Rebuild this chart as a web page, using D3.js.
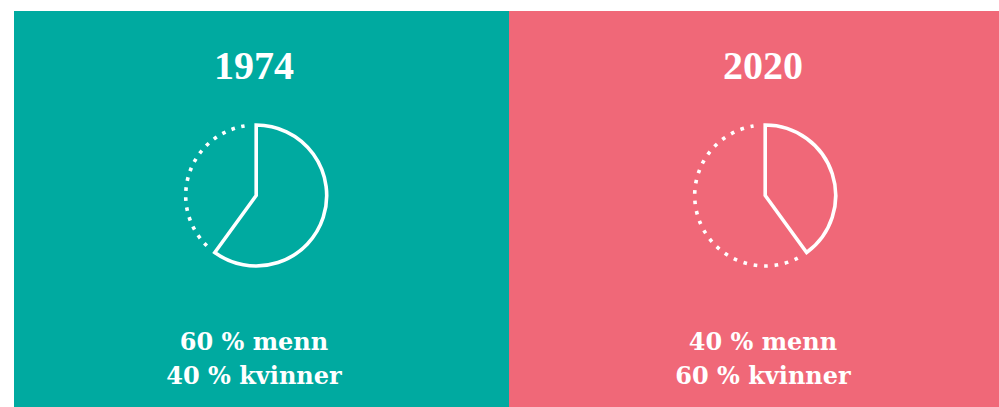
<!DOCTYPE html>
<html><head><meta charset="utf-8">
<script src="https://cdn.jsdelivr.net/npm/d3@7"></script>
<style>html,body{margin:0;padding:0;background:#fff;overflow:hidden}</style>
</head><body>
<svg id="c" width="999" height="407"></svg>
<script>
const years = ["1974", "2020"];
const mennPct = [60, 40];
const kvinnerPct = [40, 60];
const line1 = ["60 % menn", "40 % menn"];
const line2 = ["40 % kvinner", "60 % kvinner"];

const W = 999, H = 407;
const panelColors = ["#00AAA0", "#F06878"];
const svg = d3.select("#c");

const x = d3.scaleBand().domain(years).range([0, 1018]).paddingInner(0).paddingOuter(0);
const angle = d3.scaleLinear().domain([0, 100]).range([0, 2 * Math.PI]);
const r = 70.5, cy = 195.5;
const deg = Math.PI / 180;

years.forEach((yr, i) => {
  const x0 = x(yr), bw = x.bandwidth();
  const left = Math.max(14, x0), right = Math.min(W, x0 + bw);
  svg.append("rect").attr("x", left).attr("y", 11).attr("width", right - left).attr("height", H - 11)
    .attr("fill", panelColors[i]);
  const cx = x0 + bw / 2 + 1.7;
  const tx = x0 + bw / 2 - 0.5;

  svg.append("text").attr("x", tx).attr("y", 79).attr("text-anchor", "middle")
    .attr("font-family", "Liberation Serif").attr("font-weight", "bold").attr("font-size", 40)
    .attr("fill", "#fff").text(yr);

  const g = svg.append("g").attr("transform", `translate(${cx},${cy})`);
  const a1 = angle(mennPct[i]);
  g.append("path")
    .attr("d", d3.arc().innerRadius(0).outerRadius(r)({startAngle: 0, endAngle: a1}))
    .attr("fill", "none").attr("stroke", "#fff").attr("stroke-width", 3.6).attr("stroke-linejoin", "miter");

  // dotted remainder (kvinner)
  const s = a1 + 8.5 * deg, e = angle(mennPct[i] + kvinnerPct[i]) - 9.5 * deg;
  const p = d3.path();
  p.arc(0, 0, r, s - Math.PI / 2, e - Math.PI / 2, false);
  const len = r * (e - s), dot = 3.6;
  const n = Math.round((len - dot) / 10.4);
  const gap = (len - dot) / n - dot;
  g.append("path").attr("d", p.toString()).attr("fill", "none").attr("stroke", "#fff")
    .attr("stroke-width", 3.6).attr("stroke-dasharray", `${dot},${gap}`);

  const t = svg.append("text").attr("text-anchor", "middle")
    .attr("font-family", "DejaVu Serif").attr("font-weight", "bold").attr("font-size", 24)
    .attr("fill", "#fff");
  t.append("tspan").attr("x", tx).attr("y", 349.5).text(line1[i]);
  t.append("tspan").attr("x", tx).attr("y", 383.5).text(line2[i]);
});
</script>
</body></html>
